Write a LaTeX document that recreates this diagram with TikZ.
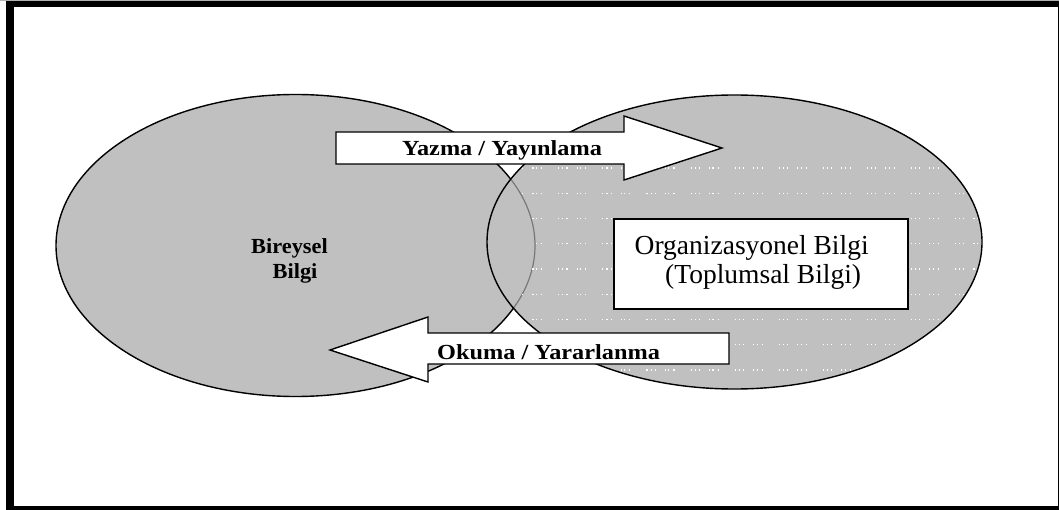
\documentclass[tikz,border=0pt]{standalone}
\usepackage{fontspec}
\setmainfont{Liberation Serif}
\begin{document}
\begin{tikzpicture}[x=1pt,y=-1pt]
\tikzset{
  blob/.style={fill=blobgray},
  blobline/.style={draw=black,line width=1.4pt},
  blockarrow/.style={draw=black,fill=white,line width=1.4pt,line join=miter},
  boldlabel/.style={inner sep=0pt,font=\fontsize{21.5}{24}\selectfont\bfseries},
  plainlabel/.style={inner sep=0pt,font=\fontsize{27.5}{32}\selectfont},
  texture/.style={white,line width=1.1pt,
    dash pattern=on 1.1pt off 3pt on 1.1pt off 3pt on 1.1pt off 9pt on 1.1pt off 2.5pt on 1.1pt off 4pt on 1.1pt off 16pt}
}
\definecolor{blobgray}{RGB}{192,192,192}
\definecolor{lensgray}{RGB}{120,120,120}

\useasboundingbox (0,0) rectangle (1059,510);
\fill[white] (0,0) rectangle (1059,510);

% outer frame
\fill[gray!60] (0,0) rectangle (1059,1.3);
\fill[black] (6,1.3) rectangle (14,510);
\fill[black] (6,1.3) rectangle (1059,7);
\fill[black] (1057.6,1.3) rectangle (1059,510);
\fill[black] (6,505.7) rectangle (1059,510);

% centres of the two knowledge areas
\coordinate (lc) at (295.5,245.5);
\coordinate (rc) at (734.5,242);

% individual knowledge (left)
\path[blob] (lc) ellipse [x radius=239.5pt, y radius=151pt];
\path[blobline] (lc) ellipse [x radius=239.5pt, y radius=151pt];

% organisational knowledge (right), laid over the left one
\path[blob] (rc) ellipse [x radius=247.5pt, y radius=147pt];
\begin{scope}
  \clip (rc) ellipse [x radius=247.5pt, y radius=147pt];
  \draw[lensgray,line width=1.2pt] (lc) ellipse [x radius=239.5pt, y radius=151pt];
  % dotted horizontal shading outside the overlap
  \begin{scope}[even odd rule]
    \clip (rc) ellipse [x radius=247.5pt, y radius=147pt]
          (lc) ellipse [x radius=239.5pt, y radius=151pt];
    \foreach \r in {0,...,8}{
      \draw[texture] (470,168+25.25*\r) -- (990,168+25.25*\r);
    }
  \end{scope}
\end{scope}
\path[blobline] (rc) ellipse [x radius=247.5pt, y radius=147pt];

% left text
\node[boldlabel,anchor=base west] (bir) at (251,253.3) {\scalebox{1.04}[1]{Bireysel}};
\node[boldlabel,anchor=base west] (bil) at (272.5,278.5) {\scalebox{1.04}[1]{Bilgi}};

% right text box
\node[draw=black,fill=white,line width=1.4pt,minimum width=294pt,minimum height=90pt,
      inner sep=0pt] (org) at (761,264) {};
\node[plainlabel,anchor=base west] (orgA) at (634.5,255) {Organizasyonel Bilgi};
\node[plainlabel,anchor=base west] (orgB) at (665,284) {(Toplumsal Bilgi)};

% writing / publishing arrow (to the right)
\draw[blockarrow] (336,132) -- (624,132) -- (624,116) -- (722,148)
   -- (624,180) -- (624,164) -- (336,164) -- cycle;
\node[boldlabel,anchor=base west] (yaz) at (402,156) {\scalebox{1.13}[1]{Yazma / Yayınlama}};

% reading / using arrow (to the left)
\draw[blockarrow] (729,333) -- (428,333) -- (428,317) -- (330,350)
   -- (428,382) -- (428,364) -- (729,364) -- cycle;
\node[boldlabel,anchor=base west] (oku) at (437,359) {\scalebox{1.13}[1]{Okuma / Yararlanma}};
\end{tikzpicture}
\end{document}
